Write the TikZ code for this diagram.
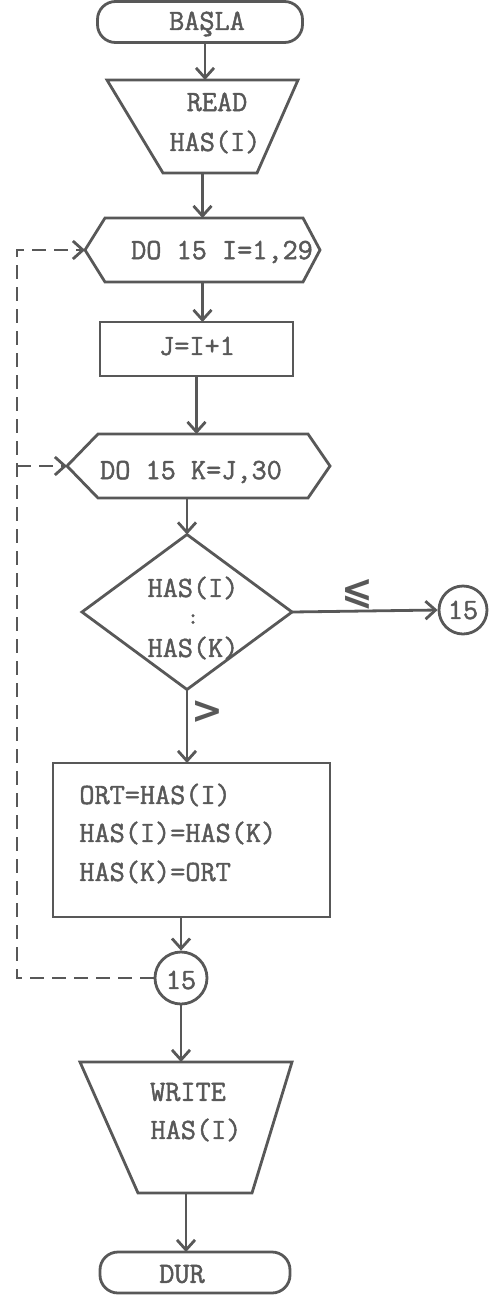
\documentclass[tikz,border=0pt]{standalone}
\usepackage{fontspec}
\newfontfamily\symfont{DejaVu Sans}
\newfontfamily\typew[FakeBold=1.6]{Latin Modern Mono}
\usetikzlibrary{arrows.meta,calc}
\definecolor{ink}{RGB}{88,88,88}
\tikzset{
  shapebox/.style={inner sep=0pt, outer sep=0pt, draw=none},
  txt/.style={font=\typew\fontsize{14.7}{16}\selectfont, text=ink, inner sep=0pt},
  mark label/.style={font=\symfont\bfseries\fontsize{19}{19}\selectfont, text=ink, inner sep=0pt},
  arr/.style={-{Straight Barb[length=5pt,width=9pt,line width=1.4pt]}},
  loopline/.style={dash pattern=on 7pt off 4pt},
}
\begin{document}
\begin{tikzpicture}[x=0.5pt,y=-0.5pt, line width=1.4pt, draw=ink, color=ink]
\useasboundingbox[fill=white] (0,0) rectangle (489,1296);

% start terminal
\node[shapebox, draw=ink, rounded corners=9pt, minimum width=102.5pt, minimum height=20.5pt] (basla) at (200,22) {};
\node[txt] (tbasla) at (207,24) {BAŞLA};

% read
\node[shapebox, minimum width=95.5pt, minimum height=46.5pt] (read) at (202.5,126.5) {};
\draw (read.north west) -- (read.north east) -- ($(read.south east)+(-41,0)$) -- ($(read.south west)+(56,0)$) -- cycle;
\node[txt] (tread1) at (217,102) {READ};
\node[txt] (tread2) at (215,142) {HAS(I)};

% do loop 1
\node[shapebox, minimum width=117.5pt, minimum height=32pt] (hex1) at (202.5,250) {};
\draw ($(hex1.north west)+(20,0)$) -- ($(hex1.north east)+(-17,0)$) -- (hex1.east) -- ($(hex1.south east)+(-17,0)$) -- ($(hex1.south west)+(20,0)$) -- (hex1.west) -- cycle;
\node[txt] (thex1) at (222,252) {DO 15 I=1,29};

% J=I+1
\node[shapebox, draw=ink, minimum width=96.5pt, minimum height=27pt] (jbox) at (196.5,349) {};
\node[txt] (tj) at (197,346) {J=I+1};

% do loop 2
\node[shapebox, minimum width=131.5pt, minimum height=32pt] (hex2) at (198.5,466) {};
\draw ($(hex2.north west)+(31,0)$) -- ($(hex2.north east)+(-22,0)$) -- (hex2.east) -- ($(hex2.south east)+(-22,0)$) -- ($(hex2.south west)+(31,0)$) -- (hex2.west) -- cycle;
\node[txt] (thex2) at (191,472) {DO 15 K=J,30};

% decision
\node[shapebox, minimum width=105pt, minimum height=77.5pt] (dec) at (187,612) {};
\draw (dec.north) -- (dec.east) -- (dec.south) -- (dec.west) -- cycle;
\node[txt] (tdec1) at (193,588) {HAS(I)};
\node[txt, font=\typew\fontsize{11}{11}\selectfont] (tdec2) at (193,619) {:};
\node[txt] (tdec3) at (193,648) {HAS(K)};

% right connector
\node[circle, draw=ink, inner sep=0pt, minimum size=24pt] (c15r) at (463,610) {};
\node[txt] (tc15r) at (463,610) {15};
\node[mark label] (le) at (357,594) {⩽};

% greater label
\node[mark label] (gt) at (207,712) {>};

% swap box
\node[shapebox, draw=ink, minimum width=138.5pt, minimum height=77pt] (swap) at (191.5,840) {};
\node[txt, anchor=west] (ts1) at (78,795) {ORT=HAS(I)};
\node[txt, anchor=west] (ts2) at (78,833) {HAS(I)=HAS(K)};
\node[txt, anchor=west] (ts3) at (78,872) {HAS(K)=ORT};

% bottom connector
\node[circle, draw=ink, inner sep=0pt, minimum size=26pt] (c15b) at (181,978) {};
\node[txt] (tc15b) at (181,980) {15};

% write
\node[shapebox, minimum width=106pt, minimum height=65.5pt] (write) at (186,1127.5) {};
\draw (write.north west) -- (write.north east) -- ($(write.south east)+(-40,0)$) -- ($(write.south west)+(58,0)$) -- cycle;
\node[txt] (twrite1) at (188,1092) {WRITE};
\node[txt] (twrite2) at (196,1130) {HAS(I)};

% end terminal
\node[shapebox, draw=ink, rounded corners=9pt, minimum width=95pt, minimum height=20.5pt] (dur) at (195,1272.5) {};
\node[txt] (tdur) at (182,1274) {DUR};

% connectors
\draw[arr] (basla.south -| tread1) ++(-12,0) coordinate (a1s) -- (a1s |- read.north);
\draw[arr] (read.south) -- (read.south |- hex1.north);
\draw[arr] (hex1.south) -- (hex1.south |- jbox.north);
\draw[arr] (jbox.south) -- (jbox.south |- hex2.north);
\draw[arr] (dec.north |- hex2.south) -- (dec.north);
\draw[arr] (dec.east) -- (c15r.west);
\draw[arr] (dec.south) -- (dec.south |- swap.north);
\draw[arr] (c15b.north |- swap.south) -- (c15b.north);
\draw[arr] (c15b.south) -- (c15b.south |- write.north);
\draw[arr] (write.south) -- (write.south |- dur.north);

% dashed loop back
\coordinate (lt) at (17,250);
\draw[loopline, arr] (c15b.west) -| (lt) -- (hex1.west);
\draw[loopline, arr] (hex2.west -| lt) -- (hex2.west);
\end{tikzpicture}
\end{document}
